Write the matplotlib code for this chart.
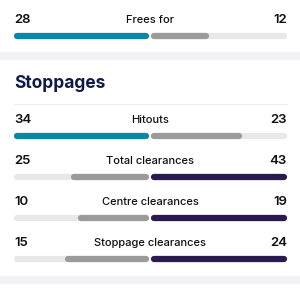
import matplotlib.pyplot as plt
from matplotlib.patches import Rectangle

# stats data
labels = ["Frees for", "Hitouts", "Total clearances", "Centre clearances", "Stoppage clearances"]
home = [28, 34, 25, 10, 15]
away = [12, 23, 43, 19, 24]
section = "Stoppages"

TEAL = "#0b87a6"
PURPLE = "#2b1a4f"
GREY = "#9b9b9b"
LIGHT = "#e8e8ea"
BAND = "#f2f3f7"

plt.rcParams['font.family'] = ['Inter', 'DejaVu Sans']

fig = plt.figure(figsize=(3, 3), dpi=100)
ax = fig.add_axes([0, 0, 1, 1])
ax.set_xlim(0, 300)
ax.set_ylim(300, 0)
ax.axis('off')

# grey separator bands
ax.add_patch(Rectangle((0, 52), 300, 8, color=BAND, lw=0))
ax.add_patch(Rectangle((0, 276), 300, 8, color=BAND, lw=0))

ax.text(14, 84, section, fontsize=12.5, fontweight='bold', color="#0e1a4a", va='center')
ax.plot([14, 287], [104, 104], color="#eeeeee", lw=0.8)

rows_y = [20, 120, 161, 202, 243]
left0, mid, right1 = 14, 150, 287
lw = 4.5
cap = 3  # half of line width in pixels


def seg(x0, x1, y, c):
    ax.plot([x0 + cap, x1 - cap], [y, y], color=c, lw=lw, solid_capstyle='round')


for lab, h, a, y in zip(labels, home, away, rows_y):
    ax.text(left0, y, str(h), fontsize=9.5, fontweight='semibold', color="#111111", va='center')
    ax.text(right1, y, str(a), fontsize=9.5, fontweight='semibold', color="#111111", va='center', ha='right')
    ax.text(mid, y, lab, fontsize=8, fontweight='medium', color="#111111", va='center', ha='center')
    by = y + 16
    m = max(h, a)
    half = mid - 1 - left0
    # background track
    seg(left0, mid - 1, by, LIGHT)
    seg(mid + 1, right1, by, LIGHT)
    if h >= a:
        seg(left0, mid - 1, by, TEAL)
        seg(mid + 1, mid + 1 + half * a / m, by, GREY)
    else:
        seg(mid + 1, right1, by, PURPLE)
        seg(mid - 1 - half * h / m, mid - 1, by, GREY)

fig.savefig("out.png", dpi=100)
